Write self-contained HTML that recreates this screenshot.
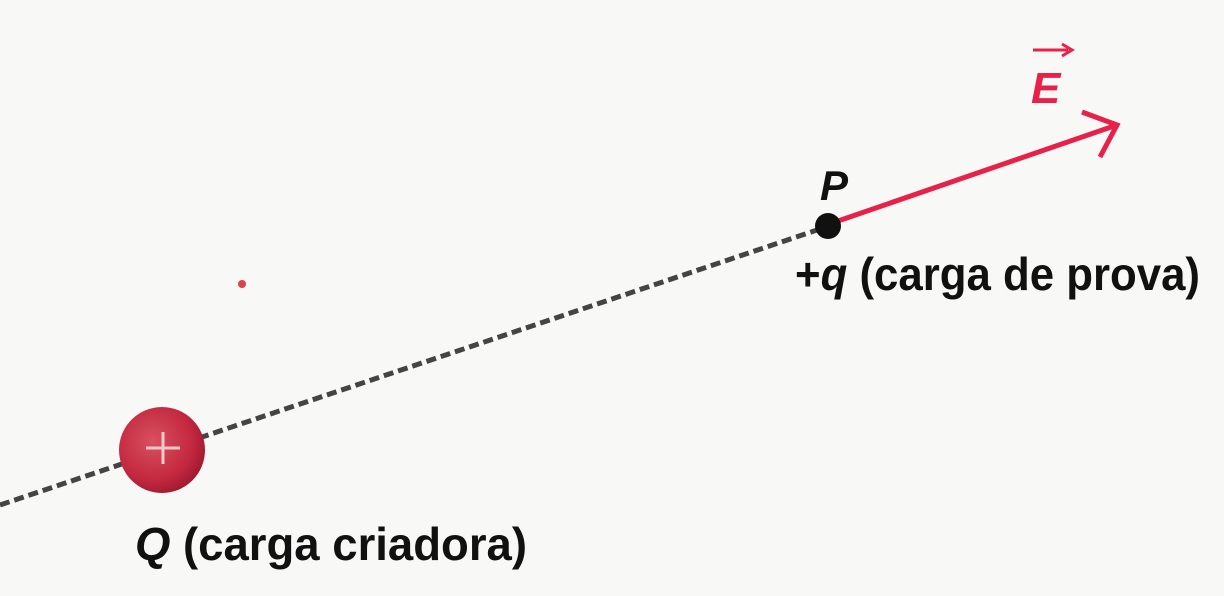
<!DOCTYPE html>
<html><head><meta charset="utf-8"><style>
html,body{margin:0;padding:0;background:#f8f8f6;}
svg{display:block}
text{font-family:"Liberation Sans Narrow","Liberation Sans",sans-serif;font-weight:bold}
</style></head><body>
<svg width="1224" height="596" viewBox="0 0 1224 596">
<defs>
<radialGradient id="g" cx="0.4" cy="0.4" r="0.65">
<stop offset="0" stop-color="#d85060"/><stop offset="0.7" stop-color="#c3283f"/><stop offset="1" stop-color="#9e1830"/>
</radialGradient>
</defs>
<rect width="1224" height="596" fill="#f8f8f6"/>
<line x1="0" y1="505" x2="820" y2="229" stroke="#444" stroke-width="5" stroke-dasharray="10 5"/>
<circle cx="242" cy="284" r="4" fill="#e0404a"/>
<g>
<circle cx="162" cy="450" r="43" fill="url(#g)"/>
<line x1="146" y1="448" x2="180" y2="448" stroke="#f4c8c8" stroke-width="3"/>
<line x1="163" y1="432" x2="163" y2="464" stroke="#f4c8c8" stroke-width="3"/>
</g>
<line x1="838" y1="221" x2="1114" y2="126" stroke="#e8214a" stroke-width="5"/>
<polyline points="1082,112 1117,125 1100,157" fill="none" stroke="#e8214a" stroke-width="5" stroke-linejoin="miter"/>
<circle cx="828" cy="226" r="13" fill="#111"/>
<text x="820" y="200" font-size="42" font-style="italic" fill="#111">P</text>
<text x="1031" y="103" font-size="44" font-style="italic" fill="#e8214a">E</text>
<line x1="1033" y1="50" x2="1068" y2="50" stroke="#e8214a" stroke-width="3"/>
<polyline points="1062,44 1072,50 1062,56" fill="none" stroke="#e8214a" stroke-width="3"/>
<text x="795" y="290" font-size="46" fill="#111" textLength="405" lengthAdjust="spacingAndGlyphs">+<tspan font-style="italic">q</tspan> (carga de prova)</text>
<text x="135" y="560" font-size="46" fill="#111" textLength="392" lengthAdjust="spacingAndGlyphs"><tspan font-style="italic">Q</tspan> (carga  criadora)</text>
</svg>
</body></html>
